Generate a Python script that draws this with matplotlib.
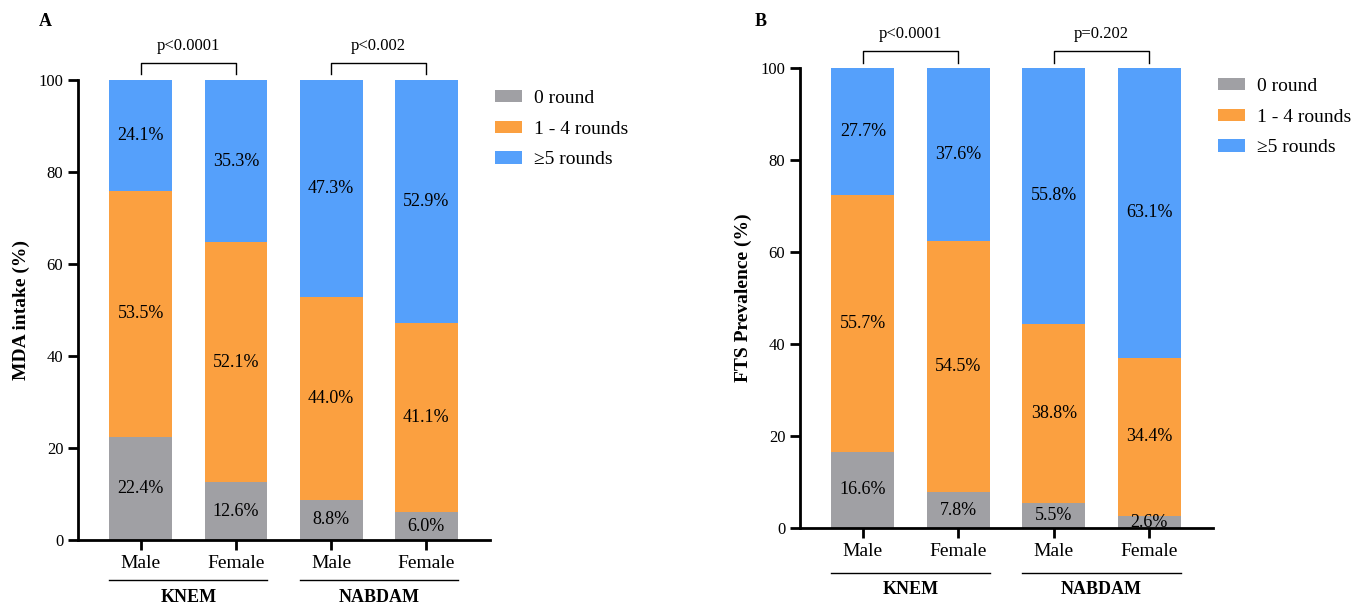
import numpy as np
import matplotlib
matplotlib.use('Agg')
import matplotlib.pyplot as plt
from matplotlib.patches import Patch

plt.rcParams['font.family'] = ['Liberation Serif', 'DejaVu Serif']

sexes = ['Male', 'Female', 'Male', 'Female']
groups = ['KNEM', 'NABDAM']
series = ['0 round', '1 - 4 rounds', '\u22655 rounds']
colors = ['#a0a0a4', '#fba040', '#55a0fb']

# panel A: MDA intake
a_zero = [22.4, 12.6, 8.8, 6.0]
a_mid = [53.5, 52.1, 44.0, 41.1]
a_five = [24.1, 35.3, 47.3, 52.9]
a_pvals = ['p<0.0001', 'p<0.002']

# panel B: FTS prevalence
b_zero = [16.6, 7.8, 5.5, 2.6]
b_mid = [55.7, 54.5, 38.8, 34.4]
b_five = [27.7, 37.6, 55.8, 63.1]
b_pvals = ['p<0.0001', 'p=0.202']

fig = plt.figure(figsize=(13.7, 6.02), dpi=100)
axA = fig.add_axes([0.0569, 0.1030, 0.3008, 0.7641])
axB = fig.add_axes([0.5839, 0.1229, 0.3015, 0.7641])


def panel(ax, zero, mid, five, pvals, ylabel, line_off, lab_off):
    x = np.arange(4)
    w = 0.66
    bottom = np.zeros(4)
    for vals, c in zip([zero, mid, five], colors):
        vals = np.array(vals)
        ax.bar(x, vals, w, bottom=bottom, color=c, linewidth=0)
        for xi, b, v in zip(x, bottom, vals):
            ax.text(xi, b + v / 2, f'{v:.1f}%', ha='center', va='center', fontsize=13)
        bottom = bottom + vals

    ax.set_xlim(-0.66, 3.67)
    ax.set_ylim(0, 100)
    ax.set_yticks([0, 20, 40, 60, 80, 100])
    ax.set_xticks(x)
    ax.set_xticklabels(sexes, fontsize=14)
    ax.tick_params(axis='y', labelsize=12, width=2, length=7)
    ax.tick_params(axis='x', width=2, length=7, pad=4)
    for s in ['top', 'right']:
        ax.spines[s].set_visible(False)
    for s in ['left', 'bottom']:
        ax.spines[s].set_linewidth(2)
    ax.set_ylabel(ylabel, fontsize=14, fontweight='bold', labelpad=6)

    # group lines and labels under the sex labels
    for g, (i0, i1) in zip(groups, [(0, 1), (2, 3)]):
        ax.plot([i0 - w / 2, i1 + w / 2], [line_off, line_off], color='black',
                lw=1, clip_on=False)
        ax.text((i0 + i1) / 2, lab_off, g, ha='center', va='center',
                fontsize=13, fontweight='bold', clip_on=False)

    # significance brackets
    for p, (i0, i1) in zip(pvals, [(0, 1), (2, 3)]):
        ax.plot([i0, i0, i1, i1], [101.2, 103.7, 103.7, 101.2], color='black',
                lw=1, clip_on=False)
        ax.text((i0 + i1) / 2, 107.3, p, ha='center', va='center', fontsize=12)

    handles = [Patch(facecolor=c, edgecolor='none') for c in colors]
    ax.legend(handles, series, loc='upper left', bbox_to_anchor=(1.012, 0.978),
              frameon=False, fontsize=14, handlelength=1.4, handleheight=0.6,
              labelspacing=0.7, borderaxespad=0, borderpad=0, handletextpad=0.6)


panel(axA, a_zero, a_mid, a_five, a_pvals, 'MDA intake (%)', -8.7, -12.6)
panel(axB, b_zero, b_mid, b_five, b_pvals, 'FTS Prevalence (%)', -9.8, -13.3)

fig.text(45 / 1370, 1 - 22 / 602, 'A', fontsize=13, fontweight='bold',
         ha='center', va='center')
fig.text(761 / 1370, 1 - 22 / 602, 'B', fontsize=13, fontweight='bold',
         ha='center', va='center')

fig.savefig('out.png', dpi=100)
